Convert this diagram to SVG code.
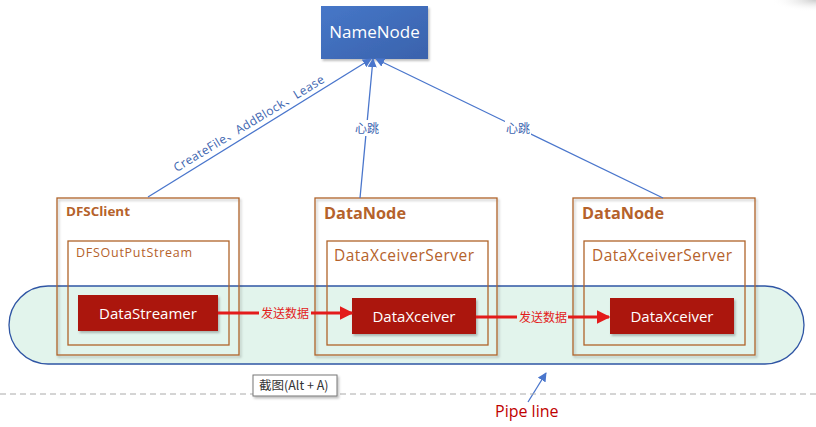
<svg xmlns="http://www.w3.org/2000/svg" width="816" height="427" viewBox="0 0 816 427">
<defs>
<style>
.box{fill:none;stroke:#B0642A;stroke-width:1.3}
.ttl{font-family:"Open Sans","Liberation Sans",sans-serif;font-weight:bold;fill:#B5622B}
.sub{font-family:"Open Sans","Liberation Sans",sans-serif;fill:#B5622B}
.red{fill:#AB1410}
.wt{font-family:"Open Sans","Liberation Sans",sans-serif;fill:#FFFFFF;font-size:15px;text-anchor:middle}
.blue{stroke:#4A76CC;stroke-width:1.3;fill:none}
.lbl{font-family:"Open Sans","Noto Sans CJK SC",sans-serif;fill:#3D65B0;font-size:12px}
.rl{stroke:#E31B1B;stroke-width:3;fill:none}
.rt{font-family:"Noto Sans CJK SC",sans-serif;fill:#E31B1B;font-size:12px;text-anchor:middle}
</style>
<marker id="ab" viewBox="0 0 10 10" refX="9" refY="5" markerWidth="7" markerHeight="7" orient="auto"><path d="M0,0 L10,5 L0,10 z" fill="#4A76CC"/></marker>
<marker id="ar" viewBox="0 0 10 10" refX="9" refY="5" markerWidth="4.5" markerHeight="4.5" orient="auto"><path d="M0,0 L10,5 L0,10 z" fill="#E31B1B"/></marker>
<linearGradient id="nn" x1="0" y1="0" x2="1" y2="1"><stop offset="0" stop-color="#4677C8"/><stop offset="1" stop-color="#3A62AC"/></linearGradient>
<radialGradient id="corner" cx="1" cy="0" r="1"><stop offset="0" stop-color="#CCCCCC"/><stop offset="1" stop-color="#FFFFFF" stop-opacity="0"/></radialGradient>
<filter id="sh" x="-10%" y="-10%" width="130%" height="140%"><feDropShadow dx="1.5" dy="2" stdDeviation="1.2" flood-color="#000" flood-opacity="0.25"/></filter>
</defs>
<rect width="816" height="427" fill="#FFFFFF"/>
<rect x="770" y="0" width="46" height="12" fill="url(#corner)"/>

<g id="pipeline">
<rect x="9" y="286" width="795" height="78" rx="39" ry="39" fill="#E2F4EC" stroke="#2F55A4" stroke-width="1.3"/>
</g>

<g id="namenode">
<rect x="321" y="6" width="107" height="53" fill="url(#nn)" filter="url(#sh)"/>
<text x="374.5" y="38" class="wt" style="font-size:17px">NameNode</text>
</g>

<g id="dfsclient">
<rect x="57" y="198" width="182" height="157" class="box" filter="url(#sh)"/>
<text x="66" y="216" class="ttl" font-size="13" textLength="64" lengthAdjust="spacingAndGlyphs">DFSClient</text>
<rect x="68" y="241" width="161" height="104" class="box"/>
<text x="76" y="257" class="sub" font-size="12.5" textLength="116" lengthAdjust="spacing">DFSOutPutStream</text>
<rect x="78" y="295" width="140" height="36" class="red" filter="url(#sh)"/>
<text x="148" y="318.5" class="wt">DataStreamer</text>
</g>

<g id="datanode1">
<rect x="315" y="198" width="182" height="157" class="box" filter="url(#sh)"/>
<text x="324" y="219" class="ttl" font-size="15.5" textLength="82" lengthAdjust="spacingAndGlyphs">DataNode</text>
<rect x="327" y="241" width="161" height="104" class="box"/>
<text x="334" y="261" class="sub" font-size="15.5" textLength="140" lengthAdjust="spacing">DataXceiverServer</text>
<rect x="352" y="298" width="124" height="36" class="red" filter="url(#sh)"/>
<text x="414" y="321.5" class="wt">DataXceiver</text>
</g>

<g id="datanode2">
<rect x="573" y="198" width="182" height="157" class="box" filter="url(#sh)"/>
<text x="582" y="219" class="ttl" font-size="15.5" textLength="82" lengthAdjust="spacingAndGlyphs">DataNode</text>
<rect x="584" y="241" width="161" height="104" class="box"/>
<text x="592" y="261" class="sub" font-size="15.5" textLength="140" lengthAdjust="spacing">DataXceiverServer</text>
<rect x="610" y="298" width="124" height="36" class="red" filter="url(#sh)"/>
<text x="672" y="321.5" class="wt">DataXceiver</text>
</g>

<g id="connectors">
<line x1="148" y1="197" x2="371" y2="59" class="blue" marker-end="url(#ab)"/>
<line x1="360" y1="198" x2="373" y2="59" class="blue" marker-end="url(#ab)"/>
<line x1="663" y1="198" x2="376" y2="59" class="blue" marker-end="url(#ab)"/>
<rect x="354" y="120" width="26" height="16" fill="#FFFFFF"/>
<text x="367" y="132.5" class="lbl" text-anchor="middle">心跳</text>
<rect x="505" y="120" width="26" height="16" fill="#FFFFFF"/>
<text x="518" y="132.5" class="lbl" text-anchor="middle">心跳</text>
<text x="0" y="0" class="lbl" font-size="13.5" text-anchor="middle" textLength="174" lengthAdjust="spacing" transform="translate(251,127) rotate(-31.3)">CreateFile、AddBlock、Lease</text>

<line x1="218" y1="313" x2="259" y2="313" class="rl"/>
<line x1="311" y1="313" x2="352" y2="313" class="rl" marker-end="url(#ar)"/>
<text x="285" y="317.5" class="rt">发送数据</text>
<line x1="476" y1="317" x2="517" y2="317" class="rl"/>
<line x1="568" y1="317" x2="609" y2="317" class="rl" marker-end="url(#ar)"/>
<text x="543" y="321.5" class="rt">发送数据</text>

<line x1="528" y1="402" x2="546" y2="373" class="blue" marker-end="url(#ab)"/>
</g>

<line x1="0" y1="394" x2="816" y2="394" stroke="#AAAAAA" stroke-width="1" stroke-dasharray="6,4"/>

<g id="tooltip">
<rect x="253" y="375" width="84" height="21" fill="#FFFFFF" stroke="#777777" stroke-width="1" filter="url(#sh)"/>
<text x="259" y="390" font-family="Noto Sans CJK SC,sans-serif" font-size="12.5" fill="#333333">截图(Alt + A)</text>
</g>

<g id="pipe-label">
<text x="495" y="417" font-family="Open Sans,Liberation Sans,sans-serif" font-size="16" fill="#C00000">Pipe line</text>
</g>
</svg>
